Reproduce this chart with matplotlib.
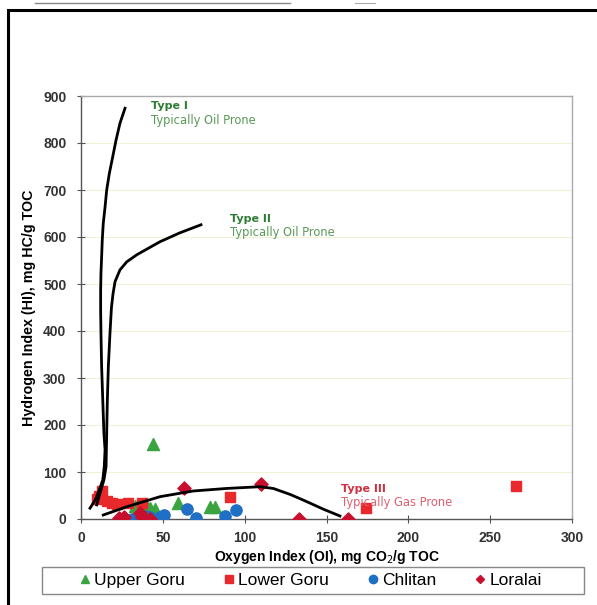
import matplotlib
matplotlib.use("Agg")
import matplotlib.pyplot as plt
from matplotlib.patches import Rectangle
from matplotlib.lines import Line2D

plt.rcParams['font.family'] = ['Liberation Sans', 'DejaVu Sans']

# ---- data ----
upper_goru_x = [44, 33, 40, 42, 45, 59, 79, 82]
upper_goru_y = [160, 28, 30, 24, 22, 34, 25, 25]

lower_goru_x = [10, 13, 11, 16, 19, 22, 29, 37, 91, 174, 266]
lower_goru_y = [42, 60, 50, 39, 35, 32, 35, 35, 47, 24, 71]

chlitan_x = [31, 35, 39, 42, 48, 51, 65, 70, 88, 95]
chlitan_y = [0, 0, 6, 4, 5, 8, 21, 3, 6, 19]

loralai_x = [23, 26, 36, 37, 42, 63, 110, 133, 163]
loralai_y = [3, 4, 13, 5, 0, 67, 75, 0, 1]

# kerogen type boundary curves
type1_x = [5.5, 8.6, 11.2, 13.3, 14.2, 14.7, 14.0, 13.3, 12.6, 12.2, 12.0, 12.0,
           12.2, 12.6, 13.0, 13.6, 14.7, 15.7, 17.3, 19.4, 21.4, 23.8, 26.9]
type1_y = [23, 40, 62, 83, 111, 147, 183, 253, 324, 395, 444, 487,
           523, 558, 594, 629, 664, 700, 735, 771, 806, 842, 874]
type2_x = [9.6, 11.6, 14.0, 15.3, 15.7, 16.1, 16.7, 17.7, 18.6, 19.6, 20.8, 23.8,
           27.9, 34.0, 40.1, 48.3, 60.5, 73.3]
type2_y = [30, 55, 83, 111, 183, 253, 324, 395, 450, 480, 505, 530,
           547, 562, 574, 590, 609, 626]
type3_x = [13.6, 27.9, 48.3, 68.6, 89.0, 109.3, 117.5, 128.0, 137.9, 148.0, 158.2]
type3_y = [8.5, 26, 47.5, 59.6, 65, 68.7, 65, 52, 37, 21, 6.4]

x_ticks = [0, 50, 100, 150, 200, 250, 300]
y_ticks = [0, 100, 200, 300, 400, 500, 600, 700, 800, 900]

# ---- figure ----
fig = plt.figure(figsize=(5.97, 6.05), dpi=100)
fig.patch.set_facecolor('white')

# outer frame
fig.add_artist(Rectangle((8/597, -0.02), 1.2, 1 - 10/605 + 0.02, transform=fig.transFigure,
                         fill=False, edgecolor='black', linewidth=2.2))
fig.add_artist(Line2D([35/597, 290/597], [1 - 3/605, 1 - 3/605], transform=fig.transFigure,
                      color='#888888', linewidth=1.0))
fig.add_artist(Line2D([355/597, 375/597], [1 - 3/605, 1 - 3/605], transform=fig.transFigure,
                      color='#aaaaaa', linewidth=0.8))

ax = fig.add_axes([81/597, 1 - 519/605, (572 - 81)/597, (519 - 96)/605])
ax.set_xlim(0, 300)
ax.set_ylim(0, 900)
ax.set_xticks(x_ticks)
ax.set_yticks(y_ticks)

for y in y_ticks[1:-1]:
    ax.axhline(y, color='#f1f1d6', linewidth=0.8, zorder=0)

for s in ['left', 'bottom']:
    ax.spines[s].set_color('#555555')
    ax.spines[s].set_linewidth(1.0)
for s in ['top', 'right']:
    ax.spines[s].set_color('#aaaaaa')
    ax.spines[s].set_linewidth(1.0)

ax.tick_params(direction='inout', length=6, width=0.8, color='#555555',
               labelsize=10, labelcolor='#333333')
ax.tick_params(axis='y', pad=7.5)
ax.tick_params(axis='x', pad=6)
for lab in ax.get_xticklabels() + ax.get_yticklabels():
    lab.set_fontweight('bold')

ax.plot(type1_x, type1_y, color='black', linewidth=2.0, zorder=4, solid_joinstyle='round')
ax.plot(type2_x, type2_y, color='black', linewidth=2.0, zorder=4, solid_joinstyle='round')
ax.plot(type3_x, type3_y, color='black', linewidth=2.0, zorder=4, solid_joinstyle='round')

ax.scatter(upper_goru_x, upper_goru_y, marker='^', s=75, color='#3aa540', zorder=3, label='Upper Goru')
ax.scatter(lower_goru_x, lower_goru_y, marker='s', s=45, color='#e8282b', zorder=3, label='Lower Goru')
ax.scatter(chlitan_x, chlitan_y, marker='o', s=65, color='#1f6fc4', zorder=3, label='Chlitan')
ax.scatter(loralai_x, loralai_y, marker='D', s=45, color='#c8102e', zorder=3, label='Loralai')

tfam = ['DejaVu Sans']
ax.text(43, 878, 'Type I', color='#2e7d32', fontsize=8, fontweight='bold', va='center', family=tfam)
ax.text(43, 848, 'Typically Oil Prone', color='#5a9a5a', fontsize=8.3, va='center', family=tfam)
ax.text(91, 638, 'Type II', color='#2e7d32', fontsize=8, fontweight='bold', va='center', family=tfam)
ax.text(91, 610, 'Typically Oil Prone', color='#5a9a5a', fontsize=8.3, va='center', family=tfam)
ax.text(159, 64, 'Type III', color='#d03040', fontsize=8, fontweight='bold', va='center', family=tfam)
ax.text(159, 36, 'Typically Gas Prone', color='#e06070', fontsize=8.3, va='center', family=tfam)

ax.set_xlabel('Oxygen Index (OI), mg CO$_2$/g TOC', fontsize=10, fontweight='bold', labelpad=2)
ax.set_ylabel('Hydrogen Index (HI), mg HC/g TOC', fontsize=10.3, fontweight='bold', labelpad=5)

# legend frame and legend
fig.add_artist(Rectangle((42/597, 1 - 594/605), 542/597, 27/605, transform=fig.transFigure,
                         fill=False, edgecolor='#888888', linewidth=1.0))
handles = [
    Line2D([], [], marker='^', color='#3aa540', linestyle='none', markersize=6),
    Line2D([], [], marker='s', color='#e8282b', linestyle='none', markersize=5.5),
    Line2D([], [], marker='o', color='#1f6fc4', linestyle='none', markersize=6),
    Line2D([], [], marker='D', color='#c8102e', linestyle='none', markersize=4.5),
]
leg = fig.legend(handles, ['Upper Goru', 'Lower Goru', 'Chlitan', 'Loralai'],
                 loc='center', ncol=4, bbox_to_anchor=(309/597, 1 - 580.5/605),
                 fontsize=12.5, frameon=False,
                 handletextpad=0.05, handlelength=1.0, columnspacing=2.0)

fig.savefig('out.png', dpi=100, facecolor='white')
